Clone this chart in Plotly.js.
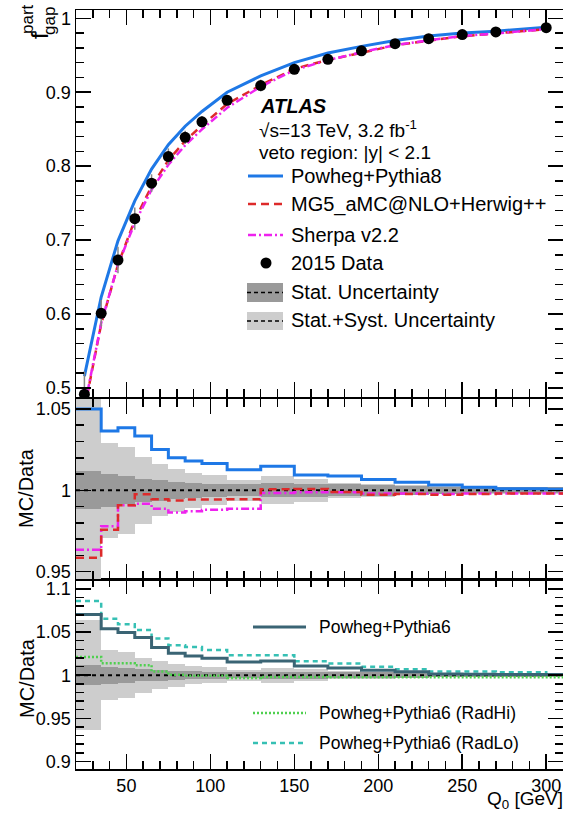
<!DOCTYPE html>
<html>
<head>
<meta charset="utf-8">
<script src="https://cdn.plot.ly/plotly-3.0.1.min.js"></script>
<style>html,body{margin:0;padding:0;background:#fff;}#chart{width:563px;height:814px;}</style>
</head>
<body>
<div id="chart"></div>
<script>
// ---------------- DATA ----------------
const q0Points = [25, 35, 45, 55, 65, 75, 85, 95, 110, 130, 150, 170, 190, 210, 230, 250, 270, 300];
const stepEdges = [20, 35, 45, 55, 65, 75, 85, 95, 110, 130, 150, 170, 190, 210, 230, 250, 270, 300, 310];

const dataFgap = [0.4915, 0.601, 0.673, 0.729, 0.777, 0.813, 0.839, 0.860, 0.889, 0.909, 0.931, 0.9445, 0.956, 0.9657, 0.9724, 0.978, 0.9815, 0.9873];
const dataErr  = [0.031, 0.018, 0.018, 0.015, 0.012, 0.011, 0.009, 0.008, 0.006, 0.008, 0.0065, 0.004, 0.004, 0.003, 0.0025, 0.002, 0.002, 0.002];

const powhegPythia8Fgap = [0.516, 0.623, 0.699, 0.753, 0.796, 0.829, 0.854, 0.874, 0.900, 0.922, 0.940, 0.953, 0.962, 0.970, 0.976, 0.980, 0.9825, 0.988];
const mg5HerwigFgap     = [0.4712, 0.5865, 0.6668, 0.7272, 0.7727, 0.8080, 0.8342, 0.8551, 0.8841, 0.9095, 0.9317, 0.9436, 0.9534, 0.9635, 0.9698, 0.9757, 0.9795, 0.9853];
const sherpaFgap        = [0.4736, 0.5877, 0.6668, 0.7230, 0.7682, 0.8019, 0.8282, 0.8498, 0.8790, 0.9075, 0.9299, 0.9434, 0.9541, 0.9638, 0.9702, 0.9760, 0.9795, 0.9853];

const ratioPowhegPythia8 = [1.050, 1.0365, 1.0385, 1.0334, 1.025, 1.020, 1.018, 1.0164, 1.0127, 1.0148, 1.0094, 1.0088, 1.0066, 1.0049, 1.0033, 1.0018, 1.001, 1.0006];
const ratioMG5Herwig     = [0.9586, 0.9758, 0.9908, 0.9975, 0.9945, 0.9938, 0.9943, 0.9943, 0.9945, 1.0006, 1.0008, 0.999, 0.9973, 0.9977, 0.9973, 0.9977, 0.998, 0.998];
const ratioSherpa        = [0.9635, 0.9779, 0.9908, 0.9918, 0.9887, 0.9863, 0.9871, 0.9881, 0.9887, 0.9984, 0.9988, 0.9988, 0.998, 0.998, 0.9977, 0.998, 0.998, 0.998];

const ratioPowhegPythia6 = [1.0703, 1.054, 1.0494, 1.0436, 1.032, 1.0255, 1.0224, 1.0197, 1.0154, 1.0166, 1.0108, 1.0085, 1.0058, 1.0039, 1.0015, 1.001, 1.0008, 1.0008];
const ratioRadHi         = [1.0212, 1.0139, 1.0139, 1.0116, 1.0042, 1.0004, 0.9995, 0.9995, 0.9969, 0.998, 0.998, 0.9975, 0.9975, 0.9975, 0.9975, 0.9975, 0.9975, 0.9975];
const ratioRadLo         = [1.0861, 1.0656, 1.059, 1.0525, 1.0425, 1.0347, 1.0328, 1.0293, 1.0232, 1.0232, 1.0162, 1.0135, 1.0097, 1.0069, 1.0042, 1.0042, 1.0035, 1.001];

const statRelUnc  = [0.0117, 0.010, 0.0086, 0.0072, 0.0066, 0.0051, 0.0047, 0.0041, 0.0037, 0.0043, 0.004, 0.0038, 0.0035, 0.0028, 0.0022, 0.0018, 0.0018, 0.0018];
const totalRelUnc = [0.064, 0.0293, 0.0267, 0.0205, 0.016, 0.0133, 0.0107, 0.0092, 0.0066, 0.0085, 0.007, 0.0045, 0.004, 0.003, 0.0025, 0.002, 0.002, 0.002];

const xTickVals = [50, 100, 150, 200, 250, 300];

// ---------------- HELPERS ----------------
const FONT = 'Liberation Sans, Arial, Helvetica, sans-serif';
const C = {
  blue: '#1e78e6', red: '#dd2a2a', magenta: '#ee22ee', data: '#000000',
  p6: '#3a6474', radhi: '#4fd04f', radlo: '#36c0b4',
  stat: '#9a9a9a', syst: '#cdcdcd'
};
const L = 76, R = 0, T = 10, B = 45, W = 563, H = 814;
const PW = W - L - R, PH = H - T - B;
const px = v => (v - L) / PW;
const py = v => (H - B - v) / PH;

const stepY = arr => arr.concat([arr[arr.length - 1]]);
const binCenters = stepEdges.slice(0, -1).map((e, i) => (e + stepEdges[i + 1]) / 2);
const binWidths  = stepEdges.slice(0, -1).map((e, i) => stepEdges[i + 1] - e);

function band(unc, color, xa, ya) {
  return {
    type: 'bar', x: binCenters, width: binWidths,
    base: unc.map(u => 1 - u), y: unc.map(u => 2 * u),
    marker: {color: color, line: {width: 0}},
    xaxis: xa, yaxis: ya, hoverinfo: 'skip', showlegend: false
  };
}
function unityLine(xa, ya) {
  return {
    type: 'scatter', mode: 'lines',
    x: [stepEdges[0], stepEdges[stepEdges.length - 1]], y: [1, 1],
    line: {color: 'black', width: 2, dash: '4px,4px'},
    xaxis: xa, yaxis: ya, showlegend: false, hoverinfo: 'skip'
  };
}
function stepLine(vals, color, width, dash, xa, ya) {
  return {
    type: 'scatter', mode: 'lines', x: stepEdges, y: stepY(vals),
    line: {color: color, width: width, dash: dash, shape: 'hv'},
    xaxis: xa, yaxis: ya, showlegend: false
  };
}

const DASH_RED = '8px,5px';
const DASH_MAG = '8px,3px,2px,3px';
const DASH_RADHI = '2px,2px';
const DASH_RADLO = '5px,4px';

const traces = [
  // bottom panel (x, y)
  band(totalRelUnc, C.syst, 'x', 'y'),
  band(statRelUnc, C.stat, 'x', 'y'),
  unityLine('x', 'y'),
  stepLine(ratioRadHi, C.radhi, 2.5, DASH_RADHI, 'x', 'y'),
  stepLine(ratioRadLo, C.radlo, 2.5, DASH_RADLO, 'x', 'y'),
  stepLine(ratioPowhegPythia6, C.p6, 3, 'solid', 'x', 'y'),
  // middle panel (x2, y2)
  band(totalRelUnc, C.syst, 'x2', 'y2'),
  band(statRelUnc, C.stat, 'x2', 'y2'),
  unityLine('x2', 'y2'),
  stepLine(ratioSherpa, C.magenta, 2.5, DASH_MAG, 'x2', 'y2'),
  stepLine(ratioMG5Herwig, C.red, 2.5, DASH_RED, 'x2', 'y2'),
  stepLine(ratioPowhegPythia8, C.blue, 3, 'solid', 'x2', 'y2'),
  // top panel (x3, y3)
  {type: 'scatter', mode: 'lines', x: q0Points, y: powhegPythia8Fgap, line: {color: C.blue, width: 3}, xaxis: 'x3', yaxis: 'y3', showlegend: false},
  {type: 'scatter', mode: 'lines', x: q0Points, y: mg5HerwigFgap, line: {color: C.red, width: 2.5, dash: DASH_RED}, xaxis: 'x3', yaxis: 'y3', showlegend: false},
  {type: 'scatter', mode: 'lines', x: q0Points, y: sherpaFgap, line: {color: C.magenta, width: 2.5, dash: DASH_MAG}, xaxis: 'x3', yaxis: 'y3', showlegend: false},
  {type: 'scatter', mode: 'markers', x: q0Points, y: dataFgap,
   error_y: {type: 'data', array: dataErr, visible: true, color: '#888888', thickness: 1.5, width: 0},
   marker: {color: C.data, size: 11}, xaxis: 'x3', yaxis: 'y3', showlegend: false}
];

const axBase = {
  showline: true, linecolor: 'black', linewidth: 1.5, mirror: 'ticks',
  ticks: 'inside', ticklen: 15, tickwidth: 1.5, tickcolor: 'black',
  showgrid: false, zeroline: false,
  tickfont: {family: FONT, size: 18, color: 'black'}
};
function xAx(anchor, labels) {
  return Object.assign({}, axBase, {
    anchor: anchor, range: [20, 310], tickmode: 'array', tickvals: xTickVals,
    showticklabels: labels,
    minor: {ticks: 'inside', ticklen: 8, tickwidth: 1.5, tickcolor: 'black', dtick: 10, tick0: 0, showgrid: false}
  });
}
function yAx(anchor, domain, range, dtick, mdtick) {
  return Object.assign({}, axBase, {
    anchor: anchor, domain: domain, range: range, tick0: 0, dtick: dtick,
    minor: {ticks: 'inside', ticklen: 8, tickwidth: 1.5, tickcolor: 'black', dtick: mdtick, tick0: 0, showgrid: false}
  });
}

const ann = (x, y, text, size, extra) => Object.assign({
  xref: 'paper', yref: 'paper', x: px(x), y: py(y), text: text, showarrow: false,
  xanchor: 'left', yanchor: 'middle', font: {family: FONT, size: size, color: 'black'}
}, extra || {});

const annotations = [
  // axis titles
  ann(40, 36, 'f', 24, {xanchor: 'center', textangle: -90}),
  ann(27, 19, 'part', 17, {xanchor: 'center', textangle: -90}),
  ann(50, 21, 'gap', 17, {xanchor: 'center', textangle: -90}),
  ann(26, 488, 'MC/Data', 20, {xanchor: 'center', textangle: -90}),
  ann(27, 678, 'MC/Data', 20, {xanchor: 'center', textangle: -90}),
  ann(565, 800, 'Q<sub>0</sub> [GeV]', 19, {xanchor: 'right'}),
  // labels
  ann(258, 106, '<b><i>ATLAS</i></b>', 20),
  ann(257, 129, '√s=13 TeV, 3.2 fb<sup>-1</sup>', 19),
  ann(257, 152, 'veto region: |y| &lt; 2.1', 19),
  // top legend
  ann(289, 176, 'Powheg+Pythia8', 20),
  ann(289, 204, 'MG5_aMC@NLO+Herwig++', 20),
  ann(289, 235, 'Sherpa v2.2', 20),
  ann(289, 263, '2015 Data', 20),
  ann(289, 292, 'Stat. Uncertainty', 20),
  ann(289, 320, 'Stat.+Syst. Uncertainty', 20),
  // bottom legend
  ann(317, 627, 'Powheg+Pythia6', 17.5),
  ann(317, 713, 'Powheg+Pythia6 (RadHi)', 17.5),
  ann(317, 743, 'Powheg+Pythia6 (RadLo)', 17.5)
];

const hline = (x0, x1, y, color, width, dash) => ({
  type: 'line', xref: 'paper', yref: 'paper', x0: px(x0), x1: px(x1), y0: py(y), y1: py(y),
  line: {color: color, width: width, dash: dash}
});
const rect = (x0, x1, y0, y1, color) => ({
  type: 'rect', xref: 'paper', yref: 'paper', x0: px(x0), x1: px(x1), y0: py(y1), y1: py(y0),
  fillcolor: color, line: {width: 0}
});
const shapes = [
  hline(248, 283, 176, C.blue, 3, 'solid'),
  hline(248, 283, 204, C.red, 2.5, DASH_RED),
  hline(248, 283, 235, C.magenta, 2.5, DASH_MAG),
  {type: 'circle', xref: 'paper', yref: 'paper', x0: px(260.5), x1: px(271.5), y0: py(268.5), y1: py(257.5), fillcolor: 'black', line: {width: 0}},
  rect(247, 283, 283, 302, C.stat),
  hline(247, 283, 292.5, 'black', 1.5, '4px,3px'),
  rect(247, 283, 312, 330, C.syst),
  hline(247, 283, 321, 'black', 1.5, '4px,3px'),
  hline(253, 306, 627, C.p6, 3, 'solid'),
  hline(253, 306, 713, C.radhi, 2.5, DASH_RADHI),
  hline(253, 306, 743, C.radlo, 2.5, DASH_RADLO)
];

const layout = {
  width: W, height: H,
  margin: {l: L, r: R, t: T, b: B, pad: 0},
  paper_bgcolor: 'white', plot_bgcolor: 'white',
  barmode: 'overlay', bargap: 0,
  showlegend: false,
  font: {family: FONT, color: 'black'},
  xaxis: xAx('y', true),
  xaxis2: xAx('y2', false),
  xaxis3: xAx('y3', false),
  yaxis: yAx('x', [0, py(579)], [0.8912, 1.1116], 0.05, 0.01),
  yaxis2: yAx('x2', [py(579), py(399)], [0.9455, 1.0561], 0.05, 0.01),
  yaxis3: yAx('x3', [py(397), 1], [0.4878, 1.0112], 0.1, 0.02),
  annotations: annotations,
  shapes: shapes
};

Plotly.newPlot('chart', traces, layout, {staticPlot: true, displayModeBar: false});
</script>
</body>
</html>
